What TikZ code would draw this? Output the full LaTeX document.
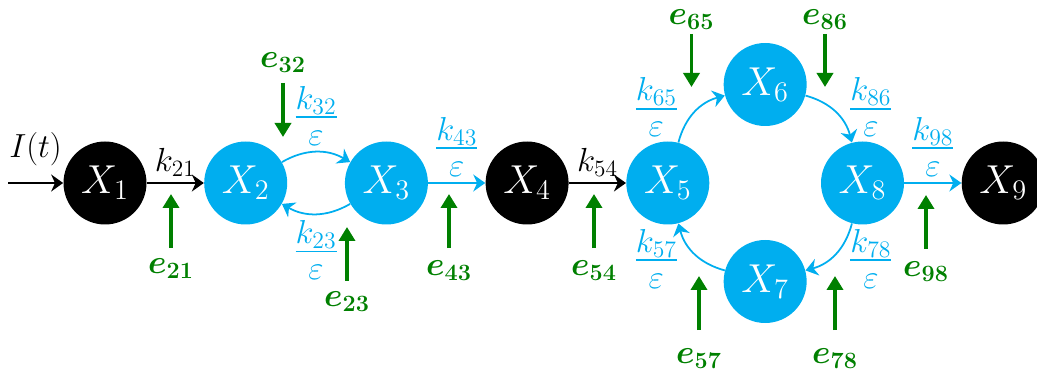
\RequirePackage{fix-cm}
\documentclass[tikz,border=0pt]{standalone}
\usepackage{amsmath, amssymb}
\usepackage{tikz}
\usetikzlibrary{positioning,arrows.meta,calc}
\usepackage{xcolor}
\definecolor{CompCyan}{RGB}{0,174,239}
\definecolor{ErrGreen}{RGB}{0,128,0}

\begin{document}
\begin{tikzpicture}[
    comp/.style={circle, fill=CompCyan, minimum size=1.66cm, inner sep=0pt,
                 text=white, font=\fontsize{23}{28}\selectfont},
    outer/.style={comp, fill=black},
    flow/.style={-{Stealth[length=2.4mm, width=3.4mm]}, line width=1.2pt},
    cflow/.style={flow, CompCyan, line width=1pt},
    err/.style={-{Triangle[length=2.8mm, width=3.2mm]}, ErrGreen, line width=2.2pt},
    elab/.style={text=ErrGreen, font=\fontsize{19}{23}\selectfont\boldmath, inner sep=0pt},
    rate/.style={font=\fontsize{19}{23}\selectfont},
    crate/.style={font=\fontsize{27}{32}\selectfont, text=CompCyan}
]
    \useasboundingbox (0,0) rectangle (20.74,-7.48);

    % compartments
    \node[outer] (x1) at (2.1,-3.66) {$X_1$};
    \node[comp, right=1.14cm of x1] (x2) {$X_2$};
    \node[comp, right=1.14cm of x2] (x3) {$X_3$};
    \node[outer, right=1.14cm of x3] (x4) {$X_4$};
    \node[comp, right=1.14cm of x4] (x5) {$X_5$};
    \node[comp, right=2.22cm of x5] (x8) {$X_8$};
    \node[comp] (x6) at ($(x5)!0.5!(x8)+(0,1.97)$) {$X_6$};
    \node[comp] (x7) at ($(x5)!0.5!(x8)-(0,1.97)$) {$X_7$};
    \node[outer, right=1.14cm of x8] (x9) {$X_9$};

    % input and transfers
    \coordinate (src) at (0.16,-3.66);
    \draw[flow] (src) -- node[rate, above=2mm] (lin) {$I(t)$} (x1);
    \draw[flow] (x1) -- node[rate, above] (l21) {$k_{21}$} (x2);
    \draw[cflow] (x2) to[bend left=30] node[crate, above] (l32) {$\frac{k_{32}}{\varepsilon}$} (x3);
    \draw[cflow] (x3) to[bend left=30] node[crate, below] (l23) {$\frac{k_{23}}{\varepsilon}$} (x2);
    \draw[cflow] (x3) -- node[crate, above] (l43) {$\frac{k_{43}}{\varepsilon}$} (x4);
    \draw[flow] (x4) -- node[rate, above] (l54) {$k_{54}$} (x5);
    \draw[cflow] (x5) to[bend left=30] node[crate, left=1.8mm, yshift=1mm] (l65) {$\frac{k_{65}}{\varepsilon}$} (x6);
    \draw[cflow] (x6) to[bend left=30] node[crate, right=1.2mm, yshift=1mm] (l86) {$\frac{k_{86}}{\varepsilon}$} (x8);
    \draw[cflow] (x8) to[bend left=30] node[crate, right=1.2mm, yshift=-1mm] (l78) {$\frac{k_{78}}{\varepsilon}$} (x7);
    \draw[cflow] (x7) to[bend left=30] node[crate, left=1.8mm, yshift=-1mm] (l57) {$\frac{k_{57}}{\varepsilon}$} (x5);
    \draw[cflow] (x8) -- node[crate, above] (l98) {$\frac{k_{98}}{\varepsilon}$} (x9);

    % error inputs
    \coordinate (t21) at (3.42,-3.88);
    \coordinate (t32) at (5.66,-2.74);
    \coordinate (t23) at (6.94,-4.54);
    \coordinate (t43) at (8.98,-3.88);
    \coordinate (t54) at (11.88,-3.88);
    \coordinate (t65) at (13.83,-1.74);
    \coordinate (t86) at (16.5,-1.74);
    \coordinate (t57) at (13.98,-5.52);
    \coordinate (t78) at (16.7,-5.52);
    \coordinate (t98) at (18.52,-3.9);

    \node[elab, below=1.28cm of t21] (e21) {$e_{\mathbf{21}}$};
    \node[elab, above=1.28cm of t32] (e32) {$e_{\mathbf{32}}$};
    \node[elab, below=1.28cm of t23] (e23) {$e_{\mathbf{23}}$};
    \node[elab, below=1.32cm of t43] (e43) {$e_{\mathbf{43}}$};
    \node[elab, below=1.32cm of t54] (e54) {$e_{\mathbf{54}}$};
    \node[elab, above=1.14cm of t65] (e65) {$e_{\mathbf{65}}$};
    \node[elab, above=1.14cm of t86] (e86) {$e_{\mathbf{86}}$};
    \node[elab, below=1.44cm of t57] (e57) {$e_{\mathbf{57}}$};
    \node[elab, below=1.44cm of t78] (e78) {$e_{\mathbf{78}}$};
    \node[elab, below=1.32cm of t98] (e98) {$e_{\mathbf{98}}$};

    \draw[err, shorten <=2mm] (e21) -- (t21);
    \draw[err, shorten <=2mm] (e32) -- (t32);
    \draw[err, shorten <=2mm] (e23) -- (t23);
    \draw[err, shorten <=2.4mm] (e43) -- (t43);
    \draw[err, shorten <=2.4mm] (e54) -- (t54);
    \draw[err, shorten <=0.8mm] (e65) -- (t65);
    \draw[err, shorten <=0.8mm] (e86) -- (t86);
    \draw[err, shorten <=3.6mm] (e57) -- (t57);
    \draw[err, shorten <=3.6mm] (e78) -- (t78);
    \draw[err, shorten <=2.4mm] (e98) -- (t98);
\end{tikzpicture}
\end{document}
